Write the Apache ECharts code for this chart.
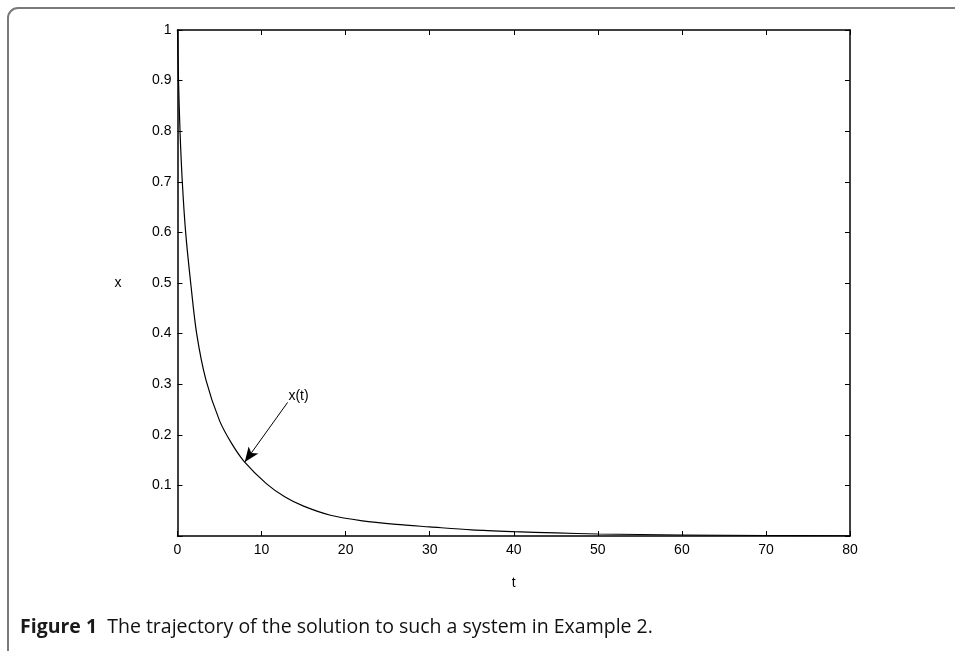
<!DOCTYPE html>
<html><head><meta charset="utf-8">
<script src="https://cdn.jsdelivr.net/npm/echarts@6/dist/echarts.min.js"></script>
<style>html,body{margin:0;padding:0;background:#fff}#c{width:955px;height:651px}</style>
</head><body><div id="c"></div>
<script>
const tValues = [0, 0.12, 0.3, 0.57, 0.97, 1.57, 2.28, 3.39, 5.0, 6.4, 7.94, 10.6, 12.8, 15, 18.2, 22, 26, 30, 35, 40, 45, 50, 55, 60, 70, 80];
const xValues = [1, 0.9, 0.8, 0.7, 0.6, 0.5, 0.4, 0.308, 0.228, 0.184, 0.147, 0.103, 0.077, 0.059, 0.041, 0.030, 0.023, 0.018, 0.012, 0.0085, 0.006, 0.004, 0.003, 0.002, 0.001, 0.0005];
const arrowFrom = [13.1, 0.264];
const arrowTo = [8.0, 0.146];
const labelPos = [13.2, 0.276];
const labelText = 'x(t)';
const xTitle = 't', yTitle = 'x';
const captionBold = 'Figure 1', captionText = 'The trajectory of the solution to such a system in Example 2.';

const chart = echarts.init(document.getElementById('c'));
const font = 'Liberation Sans, Arial, sans-serif';
const axisLine = {show: true, onZero: false, lineStyle: {color: '#000', width: 1.5}};
const tick = {show: true, inside: true, length: 5, lineStyle: {color: '#000', width: 1}};
const lbl = {color: '#000', fontSize: 14, fontFamily: font};
chart.setOption({
  animation: false,
  grid: {left: 177.5, right: 105, top: 30, bottom: 115, containLabel: false},
  graphic: [
    {type: 'rect', shape: {x: 8, y: 8, width: 1200, height: 900, r: [10, 0, 0, 0]},
     style: {fill: 'none', stroke: '#7a7a7a', lineWidth: 2}, silent: true},
    {type: 'text', left: 20, top: 617, style: {
      text: '{b|' + captionBold + '}  ' + captionText,
      fontSize: 19.5, fontFamily: 'Open Sans, sans-serif', fill: '#111',
      rich: {b: {fontWeight: 'bold', fontSize: 19.5, fontFamily: 'Open Sans, sans-serif', fill: '#1a1a1a'}}
    }}
  ],
  xAxis: [
    {type: 'value', min: 0, max: 80, interval: 10, position: 'bottom',
     name: xTitle, nameLocation: 'middle', nameGap: 40, nameTextStyle: lbl,
     axisLine: axisLine, axisTick: tick, axisLabel: Object.assign({margin: 7}, lbl), splitLine: {show: false}},
    {type: 'value', min: 0, max: 80, interval: 10, position: 'top',
     axisLine: axisLine, axisTick: tick, axisLabel: {show: false}, splitLine: {show: false}}
  ],
  yAxis: [
    {type: 'value', min: 0, max: 1, interval: 0.1, position: 'left',
     name: yTitle, nameLocation: 'middle', nameGap: 56, nameRotate: 0, nameTextStyle: lbl,
     axisLine: axisLine, axisTick: tick, splitLine: {show: false},
     axisLabel: Object.assign({margin: 6, formatter: v => v === 0 ? '' : (v === 1 ? '1' : String(+v.toFixed(1)))}, lbl)},
    {type: 'value', min: 0, max: 1, interval: 0.1, position: 'right',
     axisLine: axisLine, axisTick: tick, axisLabel: {show: false}, splitLine: {show: false}}
  ],
  series: [{
    type: 'line', xAxisIndex: 0, yAxisIndex: 0,
    data: tValues.map((t, i) => [t, xValues[i]]),
    smooth: 0.3, showSymbol: false, symbol: 'none',
    lineStyle: {color: '#000', width: 1.2},
    markLine: {
      silent: true, symbol: ['none', 'arrow'], symbolSize: [9, 15],
      lineStyle: {color: '#000', width: 1, type: 'solid'},
      label: {show: false},
      data: [[{coord: arrowFrom}, {coord: arrowTo}]]
    },
    markPoint: {
      silent: true, symbol: 'circle', symbolSize: 0,
      data: [{coord: labelPos, label: {show: true, position: 'right', distance: 0, formatter: labelText, color: '#000', fontSize: 14, fontFamily: font}}]
    }
  }]
});
</script></body></html>
